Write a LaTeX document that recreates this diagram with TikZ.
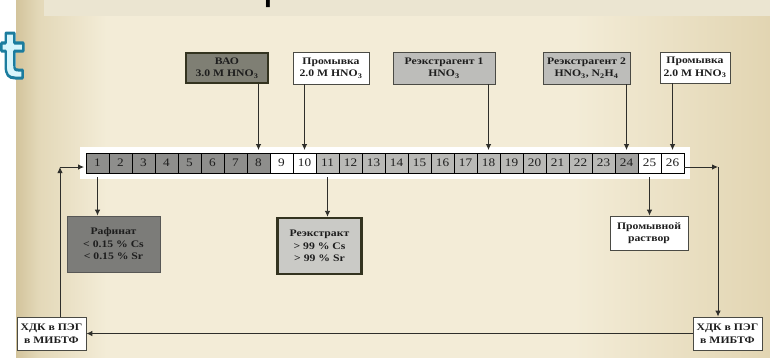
\documentclass[tikz,border=0pt]{standalone}
\usepackage{fontspec}
\usepackage{graphicx}
\usetikzlibrary{arrows.meta}

\newfontfamily\diagfont[FakeStretch=1.17]{Liberation Serif}
\newfontfamily\cellfontfam[FakeStretch=1.15]{Liberation Serif}
\newfontfamily\titlefont{Liberation Sans}
\newfontfamily\logofont{DejaVu Sans}

\definecolor{bgEdge}{HTML}{D3C49C}
\definecolor{bgLeft}{HTML}{E3D8B8}
\definecolor{bgMid}{HTML}{F3ECD7}
\definecolor{bgRight}{HTML}{E2D5B2}
\definecolor{band}{HTML}{EBE5D1}
\definecolor{darkfill}{HTML}{7F7F74}
\definecolor{rafffill}{HTML}{7C7C79}
\definecolor{lightfill}{HTML}{BDBDBA}
\definecolor{extrfill}{HTML}{CACAC6}
\definecolor{cellA}{HTML}{8E8E8C}
\definecolor{cellB}{HTML}{B9B9B6}
\definecolor{cellC}{HTML}{A2A2A0}
\definecolor{heavy}{HTML}{33331F}
\definecolor{thin}{HTML}{4A4A44}
\definecolor{wire}{HTML}{2E2E2A}
\definecolor{ink}{HTML}{1E1E1E}
\definecolor{tfill}{HTML}{D8F5FC}

% slide background: tan edge on the left, pale centre, darker right
\pgfdeclarehorizontalshading{slidebg}{100bp}{%
  color(0bp)=(bgEdge); color(25bp)=(bgEdge); color(26.5bp)=(bgLeft);
  color(31bp)=(bgMid); color(62bp)=(bgMid); color(75bp)=(bgRight);
  color(100bp)=(bgRight)}

% outlined glyph: fill in the current colour, teal stroke around it
\newcommand\outlined[1]{%
  \special{pdf:literal direct 3 w 1 j 0.106 0.486 0.620 RG 2 Tr}#1%
  \special{pdf:literal direct 0 Tr}}

\tikzset{
  cellbox/.style={draw=black, line width=0.9pt, minimum width=23pt,
    minimum height=20pt, inner sep=0pt, text=ink,
    font=\cellfontfam\fontsize{11.5}{12}\selectfont},
  tbox/.style={draw=thin, line width=0.8pt, inner sep=0pt, align=center,
    text=ink, font=\diagfont\bfseries\fontsize{10}{12.5}\selectfont},
  heavybox/.style={tbox, draw=heavy, line width=2.4pt},
  conn/.style={draw=wire, line width=0.9pt},
  arr/.style={conn, -{Latex[length=6pt,width=5.5pt]}}
}

\begin{document}
\begin{tikzpicture}[x=1pt,y=-1pt]
\useasboundingbox (0,0) rectangle (770,357);
\fill[white] (0,0) rectangle (770,357);
\shade[shading=slidebg] (16,0) rectangle (770,357);
\fill[band] (44,0) rectangle (770,16);

% pieces of the slide title
\node[font=\titlefont\fontsize{44}{44}\selectfont, anchor=base west,
  inner sep=0pt, text=black] (titlefrag) at (263.5,-1.5) {р};
\node[font=\logofont\bfseries\fontsize{64}{64}\selectfont, text=tfill,
  inner sep=0pt, anchor=base west] (logo) at (0.5,78)
  {\scalebox{0.78}[1]{\outlined{t}}};

% white frame behind the row of stages
\node[fill=white, minimum width=610pt, minimum height=32pt, inner sep=0pt]
  (strip) at (385,163) {};

% the 26 stages
\foreach \i in {1,...,26}{
  \pgfmathsetmacro\cx{86+23*(\i-1)+11.5}
  \ifnum\i<9 \def\cf{cellA}\else
   \ifnum\i<11 \def\cf{white}\else
    \ifnum\i<24 \def\cf{cellB}\else
     \ifnum\i=24 \def\cf{cellC}\else \def\cf{white}\fi\fi\fi\fi
  \node[cellbox, fill=\cf] (c\i) at (\cx,163) {\i};
}

% feed streams
\node[heavybox, fill=darkfill, minimum width=82pt, minimum height=30pt]
  (vao) at (227,68) {ВАО\\3.0 M HNO\textsubscript{3}};
\node[tbox, fill=white, minimum width=76pt, minimum height=32pt]
  (wash1) at (331,68) {Промывка\\2.0 M HNO\textsubscript{3}};
\node[tbox, fill=lightfill, minimum width=102pt, minimum height=32pt]
  (strip1) at (444,68) {Реэкстрагент 1\\HNO\textsubscript{3}};
\node[tbox, fill=lightfill, minimum width=87pt, minimum height=32pt]
  (strip2) at (586.5,68) {Реэкстрагент 2\\HNO\textsubscript{3}, N\textsubscript{2}H\textsubscript{4}};
\node[tbox, fill=white, minimum width=70pt, minimum height=31pt]
  (wash2) at (695,67.5) {Промывка\\2.0 M HNO\textsubscript{3}};

% product streams
\node[tbox, draw=rafffill!70!black, fill=rafffill, minimum width=93pt, minimum height=56pt]
  (raff) at (113.5,244) {Рафинат\\< 0.15 \% Cs\\< 0.15 \% Sr};
\node[heavybox, fill=extrfill, minimum width=84pt, minimum height=56pt]
  (extr) at (319.5,246) {Реэкстракт\\> 99 \% Cs\\> 99 \% Sr};
\node[tbox, fill=white, minimum width=78pt, minimum height=34pt]
  (rinse) at (649,233) {Промывной\\раствор};

% solvent loop
\node[tbox, fill=white, minimum width=69pt, minimum height=33pt]
  (hdkL) at (51.5,333.5) {ХДК в ПЭГ\\в МИБТФ};
\node[tbox, fill=white, minimum width=69pt, minimum height=33pt]
  (hdkR) at (727.5,333.5) {ХДК в ПЭГ\\в МИБТФ};
\coordinate (lc) at (60,167);
\coordinate (rc) at (718,167);

% feeds into the stages
\draw[arr, shorten >=2.5pt] (vao.south -| c8) -- (c8.north);
\draw[arr, shorten >=2.5pt] (wash1.south -| c10) -- (c10.north);
\draw[arr, shorten >=2.5pt] (strip1.south -| c18) -- (c18.north);
\draw[arr, shorten >=2.5pt] (strip2.south -| c24) -- (c24.north);
\draw[arr, shorten >=2.5pt] (wash2.south -| c26) -- (c26.north);

% outlets
\draw[arr, shorten <=4pt] (c1.south) -- (c1 |- raff.north);
\draw[arr, shorten <=4pt] (c11.south) -- (c11 |- extr.north);
\draw[arr, shorten <=4pt] (c25.south) -- (c25 |- rinse.north);

% solvent recycle
\draw[arr] (c26.east |- rc) -- (rc);
\draw[arr] (rc) -- (rc |- hdkR.north);
\draw[arr] (hdkR.west) -- (hdkL.east);
\draw[arr] (hdkL.north -| lc) -- (lc);
\draw[arr, shorten >=1.5pt] (lc) -- (c1.west |- lc);
\end{tikzpicture}
\end{document}
